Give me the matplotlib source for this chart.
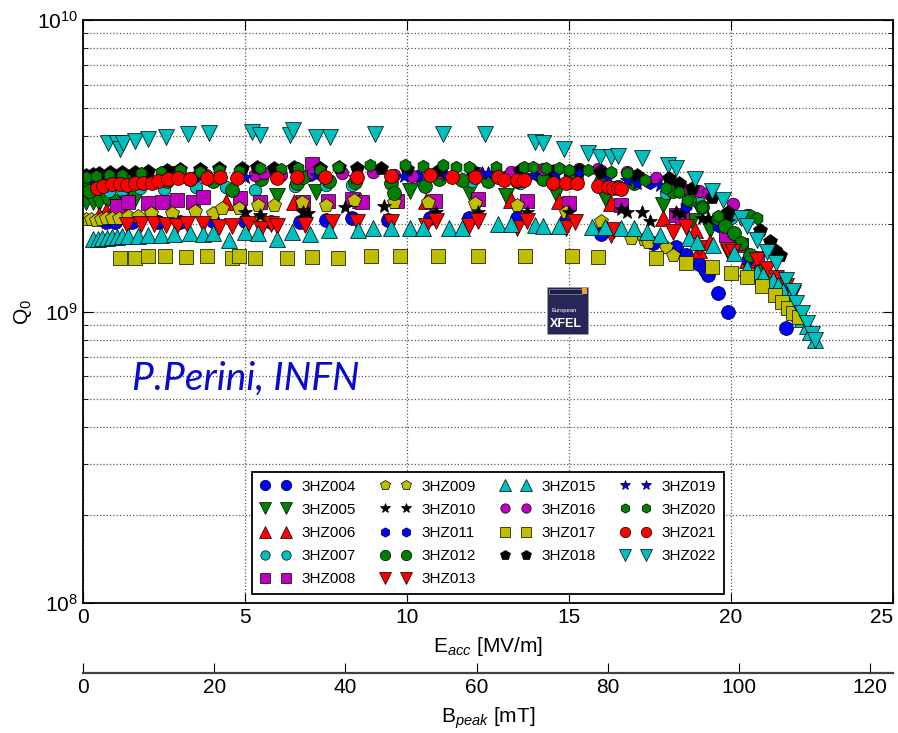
#!/usr/bin/env python3
"""Q0 vs Eacc for the 3HZ vertical-test cavities, with a B_peak scale below."""

import matplotlib
matplotlib.use("Agg")
import matplotlib.pyplot as plt
from matplotlib.patches import Rectangle
from matplotlib.ticker import LogLocator, NullFormatter, FixedLocator

plt.rcParams["font.family"] = ["Liberation Sans", "DejaVu Sans"]
plt.rcParams["mathtext.fontset"] = "custom"
plt.rcParams["mathtext.rm"] = "Liberation Sans"
plt.rcParams["mathtext.it"] = "Liberation Sans:italic"

# Q0 values are in units of 1e9
E_004 = [0.1, 0.3, 0.5, 0.7, 1.0, 1.5, 2.3, 3.0, 4.0, 5.0, 5.8, 6.7, 7.5, 8.3, 9.4, 10.7, 11.9, 13.4, 14.9,
         16.0, 17.6, 18.3, 18.6, 19.0, 19.2, 19.3, 19.6, 19.9, 21.7]
Q_004 = [2.85, 2.85, 2.85, 2.03, 2.03, 2.02, 2.03, 2.03, 2.04, 2.05, 2.03, 2.03, 2.06, 2.09, 2.06, 2.09, 2.09, 2.09, 2.06,
         1.85, 1.72, 1.67, 1.56, 1.45, 1.39, 1.33, 1.16, 1.00, 0.88]

E_005 = [0.1, 0.3, 0.5, 0.75, 1.0, 1.3, 1.6, 6.0, 7.2, 10.1, 11.9, 13.05, 14.6, 16.1, 17.9, 18.8, 19.35, 19.9]
Q_005 = [2.37, 2.38, 2.36, 2.40, 2.38, 2.42, 2.44, 2.5, 2.56, 2.6, 2.56, 2.5, 2.52, 2.46, 2.32, 2.05, 1.9, 1.6]

E_006 = [0.5, 0.7, 0.9, 1.2, 4.4, 6.5, 8.55, 10.6, 13.2, 14.7, 16.3, 17.9, 18.9, 19.0, 19.35, 20.5, 21.0, 21.4]
Q_006 = [2.15, 2.22, 2.2, 2.25, 2.37, 2.37, 2.41, 2.4, 2.41, 2.4, 2.35, 2.1, 1.9, 1.62, 1.73, 1.5, 1.35, 1.25]

E_007 = [0.8, 1.2, 1.76, 2.5, 3.5, 4.4, 5.3, 6.55, 7.5, 8.3, 10.5, 12.0, 13.5, 15.0, 16.5, 18.0, 19.0, 20.0]
Q_007 = [2.6, 2.62, 2.66, 2.64, 2.68, 2.68, 2.62, 2.7, 2.72, 2.72, 2.75, 2.8, 2.75, 2.75, 2.7, 2.55, 2.35, 2.1]

E_008 = [1.05, 1.4, 2.0, 2.44, 2.9, 3.4, 3.7, 4.85, 5.46, 6.8, 7.07, 7.56, 8.3, 8.6, 9.7, 10.85, 12.2, 13.7, 15.0,
         16.6, 18.3, 18.5, 19.85, 20.3, 20.8]
Q_008 = [2.3, 2.37, 2.36, 2.38, 2.41, 2.37, 2.48, 2.45, 2.37, 2.37, 3.2, 2.4, 2.43, 2.37, 2.4, 2.4, 2.44, 2.4, 2.35,
         2.32, 2.14, 2.1, 1.83, 1.69, 1.53]

E_009 = [0.1, 0.25, 0.4, 0.55, 0.7, 0.9, 1.1, 1.4, 1.7, 2.1, 2.75, 3.45, 4.0, 4.3, 4.8, 5.4, 5.45, 5.9, 6.75, 7.5,
         8.35, 9.6, 10.65, 12.1, 13.4, 14.9, 16.0, 16.9, 17.3, 17.45, 18.0, 18.2]
Q_009 = [2.08, 2.08, 2.06, 2.08, 2.09, 2.1, 2.1, 2.12, 2.12, 2.18, 2.18, 2.22, 2.18, 2.27, 2.27, 2.32, 2.1, 2.32, 2.37, 2.32,
         2.41, 2.37, 2.37, 2.35, 2.32, 2.19, 2.05, 1.79, 1.78, 1.73, 1.67, 1.56]

E_010 = [5.0, 5.46, 6.8, 6.95, 8.1, 9.3, 10.9, 12.2, 13.7, 15.0, 16.6, 16.8, 17.25, 17.5, 18.3, 18.5, 19.1, 19.3, 19.9]
Q_010 = [2.2, 2.15, 2.2, 2.18, 2.28, 2.3, 2.19, 2.19, 2.19, 2.2, 2.25, 2.2, 2.2, 2.05, 2.2, 2.18, 2.1, 2.1, 2.05]

E_011 = [0.05, 0.2, 0.35, 0.5, 0.65, 0.8, 1.0, 1.3, 1.6, 2.0, 2.6, 3.5, 5.5, 7.0, 9.5, 10.3, 12.0, 13.0, 14.0, 15.0,
         16.0, 17.5, 18.6, 19.6, 20.5]
Q_011 = [2.85, 2.87, 2.85, 2.88, 2.86, 2.9, 2.88, 2.9, 2.92, 2.9, 2.93, 2.92, 2.95, 2.95, 2.9, 2.92, 2.95, 2.9, 2.95, 2.9,
         2.88, 2.75, 2.3, 1.97, 1.5]

E_012 = [0.05, 0.2, 0.5, 0.9, 1.4, 2.0, 2.6, 3.3, 4.0, 4.6, 5.5, 6.6, 6.8, 7.6, 8.4, 9.5, 9.6, 10.55, 11.0, 11.7,
         12.5, 13.4, 14.2, 15.1, 16.0, 17.0, 18.2, 18.7, 19.1, 19.6, 19.8, 20.1, 20.3, 20.6, 20.9, 21.1]
Q_012 = [2.66, 2.6, 2.7, 2.75, 2.8, 2.82, 2.8, 2.85, 2.8, 2.62, 2.85, 2.76, 2.9, 2.8, 2.78, 2.76, 2.55, 2.7, 2.85, 2.82,
         2.8, 2.8, 2.85, 2.85, 2.8, 2.75, 2.6, 2.41, 2.28, 2.1, 1.97, 1.86, 1.72, 1.56, 1.38, 1.26]

E_013 = [1.36, 1.8, 2.2, 2.55, 2.9, 3.2, 3.7, 4.2, 4.6, 5.1, 5.5, 5.8, 6.0, 6.85, 7.7, 8.45, 9.5, 10.6, 10.9, 11.9,
         12.2, 13.4, 13.7, 14.9, 15.2, 16.3, 16.4, 18.2, 18.6, 19.0, 19.9, 20.05, 20.8, 21.1, 21.4, 21.7, 21.9]
Q_013 = [1.98, 2.0, 2.0, 1.98, 1.97, 2.0, 2.0, 1.95, 1.96, 2.0, 1.92, 2.0, 1.97, 1.98, 2.02, 2.02, 2.02, 1.97, 2.04, 1.97,
         2.04, 1.93, 2.04, 1.93, 2.02, 1.83, 1.9, 1.87, 1.95, 1.65, 1.62, 1.6, 1.5, 1.4, 1.3, 1.22, 1.16]

E_015 = [0.3, 0.45, 0.6, 0.75, 0.9, 1.05, 1.2, 1.4, 1.7, 2.0, 2.4, 2.8, 3.3, 3.7, 4.0, 4.5, 5.0, 5.4, 6.0, 6.45,
         7.0, 7.6, 8.5, 8.95, 9.5, 10.1, 10.5, 11.3, 11.7, 12.8, 13.2, 13.95, 14.2, 14.7, 15.7, 16.1, 16.6, 17.0,
         17.4, 17.8, 18.7, 18.95, 19.45, 20.1, 20.5, 20.8, 21.0, 21.3, 21.45, 21.6, 21.8, 21.97, 22.1, 22.2, 22.35,
         22.45, 22.6]
Q_015 = [1.78, 1.78, 1.79, 1.79, 1.8, 1.8, 1.81, 1.81, 1.82, 1.83, 1.83, 1.85, 1.86, 1.85, 1.86, 1.76, 1.88, 1.86, 1.78, 1.88,
         1.84, 1.9, 1.9, 1.93, 1.93, 1.93, 1.93, 1.93, 1.93, 2.0, 2.0, 1.98, 1.96, 1.96, 1.95, 1.95, 1.93, 1.93,
         1.87, 1.83, 1.79, 1.73, 1.69, 1.59, 1.41, 1.37, 1.33, 1.28, 1.23, 1.18, 1.11, 1.04, 0.99, 0.94, 0.89,
         0.85, 0.80]

E_016 = [2.8, 3.8, 5.3, 5.6, 6.1, 7.1, 8.0, 8.95, 9.6, 10.15, 11.0, 12.2, 13.2, 14.2, 15.3, 15.9, 16.0, 16.8, 17.7,
         18.5, 19.0, 19.3, 20.06, 20.5]
Q_016 = [3.0, 2.95, 2.95, 2.98, 2.95, 2.98, 2.98, 3.02, 2.95, 2.92, 3.02, 2.98, 3.02, 3.08, 3.08, 3.08, 3.04, 3.0, 2.87,
         2.66, 2.6, 2.55, 2.33, 2.14]

E_017 = [1.14, 1.6, 2.0, 2.53, 3.18, 3.83, 4.6, 4.81, 5.31, 6.3, 7.07, 7.87, 8.88, 9.78, 10.96, 12.2, 13.64, 15.1,
         15.9, 17.7, 18.6, 19.4, 20.0, 20.5, 20.96, 21.36, 21.57, 21.76, 21.9, 22.1]
Q_017 = [1.52, 1.53, 1.55, 1.55, 1.54, 1.55, 1.52, 1.55, 1.52, 1.53, 1.54, 1.53, 1.55, 1.55, 1.55, 1.55, 1.55, 1.55,
         1.54, 1.53, 1.47, 1.42, 1.36, 1.31, 1.22, 1.14, 1.08, 1.03, 0.99, 0.96]

E_018 = [0.1, 0.3, 0.5, 0.83, 1.2, 1.6, 2.0, 2.6, 3.0, 3.6, 4.2, 4.9, 5.37, 5.9, 6.5, 7.3, 7.9, 8.45, 9.2, 10.0,
         11.0, 12.0, 13.5, 14.5, 15.3, 16.0, 17.1, 18.1, 18.4, 18.8, 19.4, 19.9, 20.4, 20.9, 21.2, 21.35, 21.5]
Q_018 = [2.95, 2.97, 2.98, 3.0, 3.0, 3.02, 3.03, 3.05, 3.08, 3.08, 3.1, 3.1, 3.13, 3.1, 3.12, 3.1, 3.12, 3.1, 3.1, 3.08,
         3.06, 3.06, 3.06, 3.04, 3.06, 3.0, 2.94, 2.87, 2.77, 2.66, 2.48, 2.2, 2.09, 1.9, 1.74, 1.62, 1.56]

E_019 = [5.0, 6.0, 7.2, 8.4, 9.9, 11.2, 12.3, 12.5, 13.9, 14.6, 15.3, 16.2, 16.8, 17.1, 17.8]
Q_019 = [2.9, 2.92, 2.95, 2.9, 2.92, 2.95, 2.98, 2.98, 2.95, 2.96, 2.98, 2.86, 2.82, 2.77, 2.72]

E_020 = [0.1, 0.4, 0.8, 1.2, 1.8, 2.4, 3.0, 3.6, 4.2, 4.8, 5.46, 6.1, 6.64, 7.3, 7.87, 8.86, 9.94, 10.5, 11.1, 11.5,
         11.9, 12.75, 13.6, 13.9, 14.3, 14.7, 15.0, 15.6, 16.3, 16.8, 17.35, 18.0, 18.4, 18.65, 19.1, 19.6, 20.6, 20.8]
Q_020 = [2.9, 2.92, 2.95, 2.95, 2.98, 3.0, 3.06, 3.02, 3.06, 3.04, 3.1, 3.08, 3.1, 3.06, 3.13, 3.18, 3.18, 3.16, 3.18, 3.13,
         3.13, 3.13, 3.13, 3.13, 3.1, 3.1, 3.06, 3.06, 3.0, 2.98, 2.82, 2.66, 2.57, 2.41, 2.28, 2.12, 2.14, 2.1]

E_021 = [0.43, 0.62, 0.9, 1.14, 1.36, 1.6, 1.85, 2.13, 2.31, 2.62, 2.93, 3.3, 3.83, 4.23, 4.75, 6.0, 6.6, 7.47, 8.45,
         9.5, 10.7, 11.4, 12.1, 12.8, 13.0, 13.4, 13.6, 14.5, 14.9, 15.25, 15.9, 16.2, 16.35, 16.5, 16.6]
Q_021 = [2.66, 2.70, 2.74, 2.74, 2.72, 2.76, 2.77, 2.77, 2.80, 2.85, 2.87, 2.85, 2.87, 2.9, 2.87, 2.87, 2.9, 2.9, 2.9,
         2.92, 2.94, 2.9, 2.9, 2.9, 2.82, 2.82, 2.82, 2.77, 2.77, 2.75, 2.7, 2.68, 2.66, 2.66, 2.64]

E_022 = [0.77, 1.05, 1.14, 1.23, 1.6, 2.0, 2.56, 3.24, 3.89, 5.22, 5.46, 6.39, 6.48, 7.19, 7.62, 9.0, 11.1, 12.4,
         13.95, 14.2, 14.85, 15.6, 15.96, 16.3, 16.5, 17.25, 18.05, 18.3, 18.9, 19.4, 19.75, 20.3, 20.5, 20.8, 21.1,
         21.4, 21.7, 21.9, 22.0, 22.2, 22.35, 22.5, 22.6]
Q_022 = [3.78, 3.78, 3.61, 3.78, 3.85, 3.91, 3.97, 4.07, 4.10, 4.13, 4.03, 4.03, 4.2, 3.97, 3.97, 4.07, 4.07, 4.07,
         3.8, 3.78, 3.6, 3.5, 3.4, 3.4, 3.42, 3.35, 3.18, 3.1, 2.85, 2.6, 2.42, 2.1, 1.97, 1.76, 1.6,
         1.47, 1.28, 1.18, 1.07, 0.99, 0.91, 0.84, 0.80]

# name, E, Q, marker, colour, marker size
SERIES = [
    ("3HZ004", E_004, Q_004, "o", "b", 10),
    ("3HZ005", E_005, Q_005, "v", "g", 11),
    ("3HZ006", E_006, Q_006, "^", "r", 11),
    ("3HZ007", E_007, Q_007, "o", "c", 9),
    ("3HZ008", E_008, Q_008, "s", "m", 10),
    ("3HZ009", E_009, Q_009, "p", "y", 10),
    ("3HZ010", E_010, Q_010, "*", "k", 10),
    ("3HZ011", E_011, Q_011, "h", "b", 9),
    ("3HZ012", E_012, Q_012, "o", "g", 10),
    ("3HZ013", E_013, Q_013, "v", "r", 11),
    ("3HZ015", E_015, Q_015, "^", "c", 11),
    ("3HZ016", E_016, Q_016, "o", "m", 9),
    ("3HZ017", E_017, Q_017, "s", "y", 10),
    ("3HZ018", E_018, Q_018, "p", "k", 10),
    ("3HZ019", E_019, Q_019, "*", "b", 10),
    ("3HZ020", E_020, Q_020, "h", "g", 9),
    ("3HZ021", E_021, Q_021, "o", "r", 10),
    ("3HZ022", E_022, Q_022, "v", "c", 11),
]

E_TICKS = [0, 5, 10, 15, 20, 25]
B_TICKS = [0, 20, 40, 60, 80, 100, 120]

W, H = 898, 733


def px(x0, y0, x1, y1):
    """Pixel box (left, top, right, bottom) -> figure rect."""
    return [x0 / W, 1 - y1 / H, (x1 - x0) / W, (y1 - y0) / H]


fig = plt.figure(figsize=(W / 100, H / 100), dpi=100)
ax = fig.add_axes(px(83, 20, 893, 603))

for name, e, q, mk, col, ms in SERIES:
    ax.plot(e, [v * 1e9 for v in q], linestyle="none", marker=mk, color=col,
            markersize=ms, markeredgecolor="k", markeredgewidth=0.5, label=name)

ax.set_yscale("log")
ax.set_xlim(0, 25)
ax.set_ylim(1e8, 1e10)
ax.xaxis.set_major_locator(FixedLocator(E_TICKS))
ax.yaxis.set_major_locator(LogLocator(base=10))
ax.yaxis.set_minor_locator(LogLocator(base=10, subs=range(2, 10)))
ax.yaxis.set_minor_formatter(NullFormatter())
ax.grid(True, axis="x", which="major", linestyle=":", color="0.35", linewidth=0.9)
ax.grid(True, axis="y", which="both", linestyle=":", color="0.35", linewidth=0.9)
ax.tick_params(which="both", direction="in", top=True, right=True, labelsize=15)
ax.tick_params(which="major", length=7)
ax.tick_params(which="minor", length=3.5)
for sp in ax.spines.values():
    sp.set_linewidth(1.3)

# the last E label sits on the figure edge; pull it inside
fig.canvas.draw()
last = ax.get_xticklabels()[-1]
last.set_horizontalalignment("right")
last.set_x(25.28)

ax.set_xlabel(r"E$_{acc}$ [MV/m]", fontsize=15, labelpad=6)
ax.set_ylabel(r"Q$_0$", fontsize=15, labelpad=2)

leg = ax.legend(loc="lower center", bbox_to_anchor=(0.5, 0.0155), borderaxespad=0,
                ncol=4, numpoints=2, markerscale=0.75, fontsize=11, frameon=True,
                fancybox=False, edgecolor="k", framealpha=1, handlelength=2.0,
                handletextpad=0.7, columnspacing=1.6, labelspacing=0.6, borderpad=0.5)
leg.get_frame().set_linewidth(1.3)

# second scale: peak magnetic field
ax2 = fig.add_axes(px(83, 672, 893, 673))
ax2.set_xlim(0, 123.5)
ax2.set_yticks([])
ax2.xaxis.set_major_locator(FixedLocator(B_TICKS))
for side in ("left", "right", "top"):
    ax2.spines[side].set_visible(False)
ax2.spines["bottom"].set_linewidth(1.6)
ax2.spines["bottom"].set_color("0.25")
ax2.patch.set_visible(False)
ax2.tick_params(direction="in", length=7, labelsize=15)
ax2.set_xlabel(r"B$_{peak}$ [mT]", fontsize=15, labelpad=6)

# author note
fig.text(132 / W, 1 - 390 / H, "P.Perini, INFN", color="#0a0acc", fontsize=28,
         fontstyle="italic", family=["Lato", "DejaVu Sans"], va="baseline")

# European XFEL badge
logo = fig.add_axes(px(547, 287, 589, 335))
logo.set_xlim(0, 1)
logo.set_ylim(0, 1)
logo.axis("off")
logo.add_patch(Rectangle((0, 0), 1, 1, facecolor="#262657", edgecolor="#b0b0b8", linewidth=1.2))
logo.add_patch(Rectangle((0.05, 0.86), 0.78, 0.1, facecolor="#1c1c46", edgecolor="#9090a8", linewidth=0.5))
logo.add_patch(Rectangle((0.84, 0.86), 0.12, 0.12, facecolor="#f0a030", edgecolor="none"))
logo.text(0.1, 0.45, "European", color="white", fontsize=4.2, va="bottom")
logo.text(0.08, 0.1, "XFEL", color="white", fontsize=9, fontweight="bold", va="bottom")

fig.savefig("out.png", dpi=100)
